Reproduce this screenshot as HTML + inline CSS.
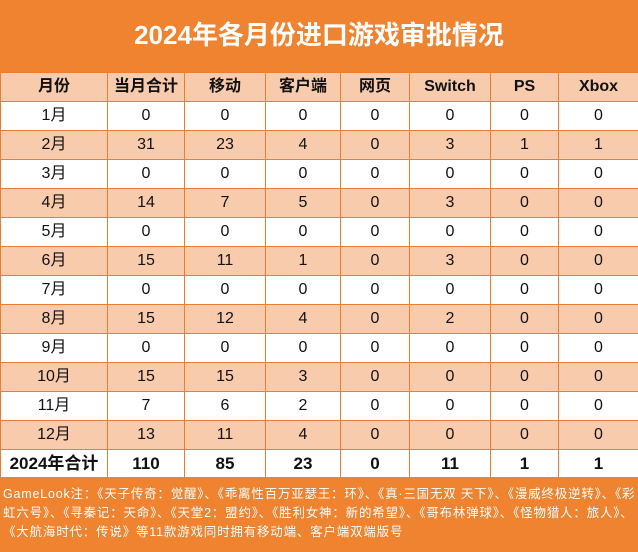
<!DOCTYPE html>
<html><head><meta charset="utf-8"><style>
body{margin:0;width:638px;height:552px;overflow:hidden;background:#fff;font-family:"Liberation Sans","Noto Sans CJK SC",sans-serif}
#title{position:absolute;left:0;top:0;width:638px;height:72px;background:#EF8330;color:#fff;font-size:26px;font-weight:bold;text-align:center;line-height:70px}
table{position:absolute;left:0;top:72px;border-collapse:collapse;width:638px;table-layout:fixed}
tr{height:29px}
td{border:1.5px solid #ED7D31;padding:0;text-align:center;vertical-align:middle;font-size:16px;line-height:16px;color:#111;overflow:hidden}
tr.h td{background:#F8CBAD;font-weight:bold}
tr.o td{background:#F8CBAD}
tr.t td{font-weight:bold;font-size:17px}
#note{position:absolute;left:0;top:477px;width:638px;height:75px;background:#EF8330;color:#fff;font-size:12.5px;letter-spacing:0.8px;line-height:19px;padding:8px 3px 0 3px;box-sizing:border-box;white-space:nowrap;overflow:hidden}
#note span{display:block}
</style></head><body>
<div id="title">2024年各月份进口游戏审批情况</div>
<table>
<colgroup><col style="width:107px"><col style="width:77px"><col style="width:81px"><col style="width:75px"><col style="width:69px"><col style="width:81px"><col style="width:68px"><col style="width:80px"></colgroup>
<tr class="h"><td>月份</td><td>当月合计</td><td>移动</td><td>客户端</td><td>网页</td><td>Switch</td><td>PS</td><td>Xbox</td></tr>
<tr><td>1月</td><td>0</td><td>0</td><td>0</td><td>0</td><td>0</td><td>0</td><td>0</td></tr>
<tr class="o"><td>2月</td><td>31</td><td>23</td><td>4</td><td>0</td><td>3</td><td>1</td><td>1</td></tr>
<tr><td>3月</td><td>0</td><td>0</td><td>0</td><td>0</td><td>0</td><td>0</td><td>0</td></tr>
<tr class="o"><td>4月</td><td>14</td><td>7</td><td>5</td><td>0</td><td>3</td><td>0</td><td>0</td></tr>
<tr><td>5月</td><td>0</td><td>0</td><td>0</td><td>0</td><td>0</td><td>0</td><td>0</td></tr>
<tr class="o"><td>6月</td><td>15</td><td>11</td><td>1</td><td>0</td><td>3</td><td>0</td><td>0</td></tr>
<tr><td>7月</td><td>0</td><td>0</td><td>0</td><td>0</td><td>0</td><td>0</td><td>0</td></tr>
<tr class="o"><td>8月</td><td>15</td><td>12</td><td>4</td><td>0</td><td>2</td><td>0</td><td>0</td></tr>
<tr><td>9月</td><td>0</td><td>0</td><td>0</td><td>0</td><td>0</td><td>0</td><td>0</td></tr>
<tr class="o"><td>10月</td><td>15</td><td>15</td><td>3</td><td>0</td><td>0</td><td>0</td><td>0</td></tr>
<tr><td>11月</td><td>7</td><td>6</td><td>2</td><td>0</td><td>0</td><td>0</td><td>0</td></tr>
<tr class="o"><td>12月</td><td>13</td><td>11</td><td>4</td><td>0</td><td>0</td><td>0</td><td>0</td></tr>
<tr class="t"><td>2024年合计</td><td>110</td><td>85</td><td>23</td><td>0</td><td>11</td><td>1</td><td>1</td></tr>
</table>
<div id="note"><span>GameLook注：《天子传奇：觉醒》、《乖离性百万亚瑟王：环》、《真·三国无双 天下》、《漫威终极逆转》、《彩</span><span>虹六号》、《寻秦记：天命》、《天堂2：盟约》、《胜利女神：新的希望》、《哥布林弹球》、《怪物猎人：旅人》、</span><span>《大航海时代：传说》等11款游戏同时拥有移动端、客户端双端版号</span></div>
</body></html>
